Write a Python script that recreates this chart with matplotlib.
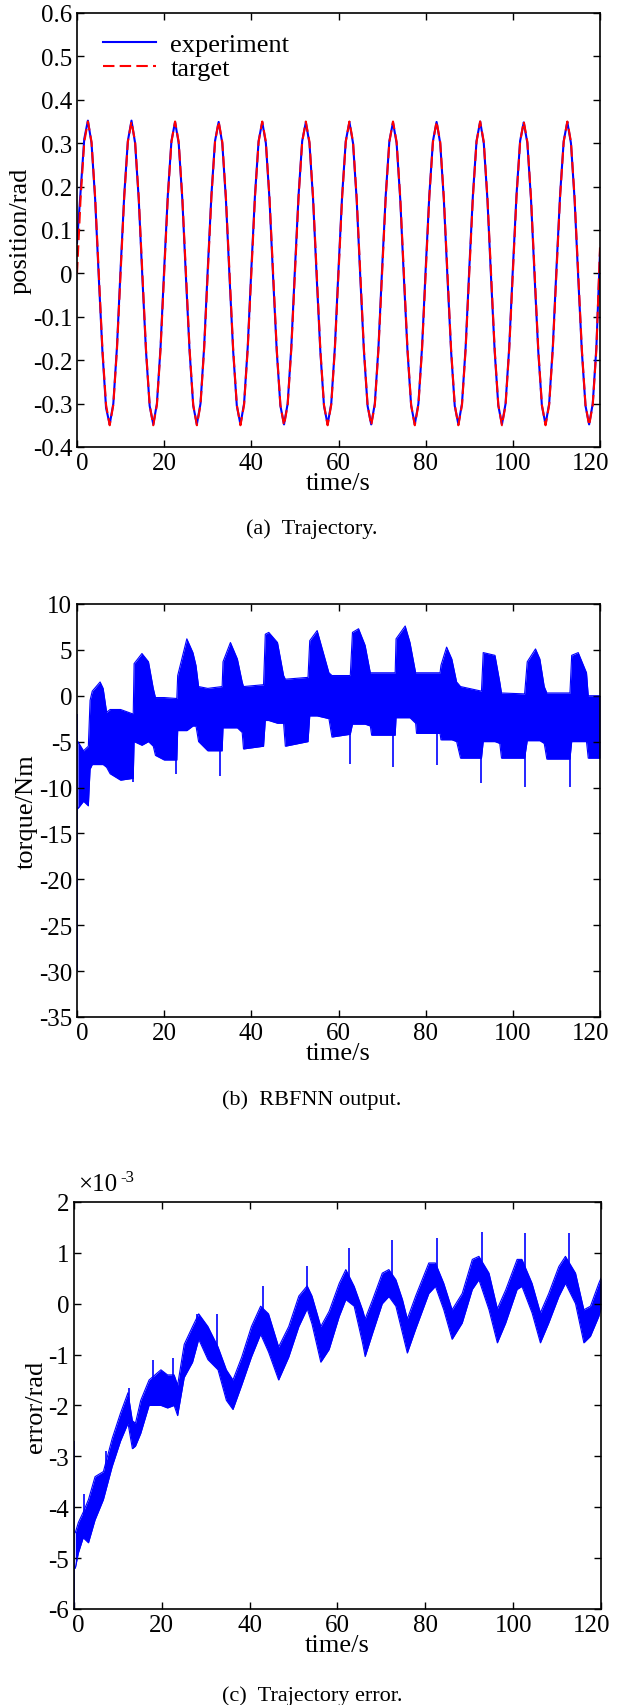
import numpy as np
import matplotlib
matplotlib.use('Agg')
import matplotlib.pyplot as plt
from matplotlib.transforms import ScaledTranslation

plt.rcParams['font.family'] = ['Liberation Serif', 'DejaVu Serif']
plt.rcParams['axes.unicode_minus'] = False

# (a) trajectory, sampled every 10/12 s, one row per 10 s cycle
traj_t = np.linspace(0, 120, 145)
target = [
    0.0, 0.175, 0.303, 0.35, 0.303, 0.175, 0.0, -0.175, -0.303, -0.35, -0.303, -0.175,
    0.0, 0.175, 0.303, 0.35, 0.303, 0.175, 0.0, -0.175, -0.303, -0.35, -0.303, -0.175,
    0.0, 0.175, 0.303, 0.35, 0.303, 0.175, 0.0, -0.175, -0.303, -0.35, -0.303, -0.175,
    0.0, 0.175, 0.303, 0.35, 0.303, 0.175, 0.0, -0.175, -0.303, -0.35, -0.303, -0.175,
    0.0, 0.175, 0.303, 0.35, 0.303, 0.175, 0.0, -0.175, -0.303, -0.35, -0.303, -0.175,
    0.0, 0.175, 0.303, 0.35, 0.303, 0.175, 0.0, -0.175, -0.303, -0.35, -0.303, -0.175,
    0.0, 0.175, 0.303, 0.35, 0.303, 0.175, 0.0, -0.175, -0.303, -0.35, -0.303, -0.175,
    0.0, 0.175, 0.303, 0.35, 0.303, 0.175, 0.0, -0.175, -0.303, -0.35, -0.303, -0.175,
    0.0, 0.175, 0.303, 0.35, 0.303, 0.175, 0.0, -0.175, -0.303, -0.35, -0.303, -0.175,
    0.0, 0.175, 0.303, 0.35, 0.303, 0.175, 0.0, -0.175, -0.303, -0.35, -0.303, -0.175,
    0.0, 0.175, 0.303, 0.35, 0.303, 0.175, 0.0, -0.175, -0.303, -0.35, -0.303, -0.175,
    0.0, 0.175, 0.303, 0.35, 0.303, 0.175, 0.0, -0.175, -0.303, -0.35, -0.303, -0.175,
    0.06]
experiment = [
    0.07, 0.19, 0.31, 0.352, 0.30, 0.17, -0.01, -0.18, -0.31, -0.348, -0.30, -0.17,
    0.01, 0.18, 0.305, 0.352, 0.30, 0.17, -0.01, -0.18, -0.305, -0.348, -0.30, -0.17,
    0.01, 0.18, 0.305, 0.349, 0.30, 0.17, -0.01, -0.18, -0.305, -0.348, -0.30, -0.17,
    0.01, 0.18, 0.305, 0.349, 0.30, 0.17, -0.01, -0.18, -0.305, -0.348, -0.30, -0.17,
    0.01, 0.18, 0.305, 0.349, 0.30, 0.17, -0.01, -0.18, -0.305, -0.348, -0.30, -0.17,
    0.01, 0.18, 0.305, 0.348, 0.30, 0.17, -0.01, -0.18, -0.305, -0.348, -0.30, -0.17,
    0.01, 0.18, 0.305, 0.349, 0.30, 0.17, -0.01, -0.18, -0.305, -0.348, -0.30, -0.17,
    0.01, 0.18, 0.305, 0.348, 0.30, 0.17, -0.01, -0.18, -0.305, -0.348, -0.30, -0.17,
    0.01, 0.18, 0.305, 0.349, 0.30, 0.17, -0.01, -0.18, -0.305, -0.348, -0.30, -0.17,
    0.01, 0.18, 0.305, 0.350, 0.30, 0.17, -0.01, -0.18, -0.305, -0.348, -0.30, -0.17,
    0.01, 0.18, 0.305, 0.348, 0.30, 0.17, -0.01, -0.18, -0.305, -0.348, -0.30, -0.17,
    0.01, 0.18, 0.305, 0.349, 0.30, 0.17, -0.01, -0.18, -0.305, -0.348, -0.30, -0.17,
    0.05]

# (b) RBFNN output: band of the dense signal (time, low, high)
torque_t = [0.2, 1.5, 2.6, 3.0, 3.5, 5.3, 6.0, 6.8, 7.6, 10.0, 12.9, 13.1, 14.9, 16.4, 17.5,
            18.0, 20.0, 22.9, 23.1, 25.2, 26.6, 27.3, 27.9, 30.0, 33.3, 33.5, 35.2, 36.8,
            37.9, 38.2, 42.8, 43.2, 44.0, 46.0, 47.4, 47.8, 53.0, 53.4, 55.1, 57.8, 58.5,
            62.7, 63.2, 64.6, 66.1, 67.3, 67.6, 73.0, 73.2, 75.3, 76.4, 77.7, 77.9, 83.3,
            83.5, 84.8, 86.0, 87.1, 88.0, 92.8, 93.2, 95.9, 97.0, 97.4, 102.7, 103.3,
            105.2, 106.2, 107.2, 107.8, 113.1, 113.5, 115.0, 116.9, 117.3, 120.0]
torque_lo = [-12.3, -11.5, -12.0, -8.0, -7.5, -7.5, -7.5, -7.8, -8.5, -9.2, -9.0, -5.0, -5.4,
             -5.0, -5.5, -6.5, -7.0, -7.0, -3.8, -3.8, -3.3, -3.3, -5.0, -6.0, -6.0, -3.5,
             -3.5, -3.5, -4.0, -5.8, -5.5, -2.7, -2.7, -3.0, -3.0, -5.5, -5.0, -2.2, -2.2,
             -2.5, -4.5, -4.2, -3.1, -3.1, -3.1, -3.3, -4.3, -4.3, -2.4, -2.4, -2.4, -3.0,
             -4.1, -4.1, -4.8, -4.8, -4.8, -5.0, -6.8, -6.8, -5.0, -5.0, -5.2, -6.8, -6.8,
             -4.9, -4.9, -4.9, -5.2, -6.9, -6.9, -5.0, -5.0, -5.0, -6.8, -6.8]
torque_hi = [-5.0, -6.0, -5.5, -0.5, 0.5, 1.5, 0.8, -1.8, -1.5, -1.5, -2.0, 3.5, 4.6, 3.7, 0.8,
             -0.2, -0.2, -0.3, 2.2, 6.2, 4.7, 3.3, 1.0, 0.8, 1.0, 3.7, 5.8, 4.0, 1.5, 1.0,
             1.2, 6.7, 6.9, 5.8, 2.2, 1.8, 2.0, 6.0, 7.1, 2.5, 2.2, 2.2, 6.9, 7.3, 5.5,
             2.5, 2.5, 2.5, 6.2, 7.6, 5.8, 2.5, 2.5, 2.5, 3.3, 5.3, 4.0, 1.5, 1.0, 0.5,
             4.7, 4.4, 1.5, 0.3, 0.2, 3.7, 5.1, 4.0, 1.0, 0.3, 0.3, 4.4, 4.7, 2.5, 0.0, 0.0]
torque_spike_t = [0.1, 12.8, 22.6, 32.7, 62.7, 72.4, 82.7, 92.8, 102.7, 113.0]
torque_spike_v = [-30, -9.4, -8.5, -8.7, -7.4, -7.8, -7.6, -9.5, -9.9, -9.9]

# (c) trajectory error in 1e-3 rad: band (time, low, high)
err_t = [0.3, 1.0, 2.1, 3.3, 4.8, 6.7, 8.7, 10.6, 12.3, 13.3, 14.0, 15.2, 17.1, 19.8, 21.3,
         22.8, 23.6, 25.1, 27.0, 28.4, 30.5, 32.8, 34.7, 36.2, 38.2, 40.4, 42.5, 44.3, 46.6,
         48.9, 51.2, 53.1, 54.2, 56.2, 58.1, 60.4, 61.9, 63.8, 65.7, 66.3, 68.0, 70.2, 71.7,
         73.3, 74.8, 75.9, 77.8, 80.8, 82.3, 84.2, 86.1, 88.4, 90.7, 92.2, 94.5, 96.4, 98.3,
         100.9, 102.0, 104.3, 106.2, 108.1, 110.4, 111.9, 114.2, 116.1, 117.6, 119.5, 120.0]
err_lo = [-5.2, -4.9, -4.6, -4.7, -4.25, -3.85, -3.2, -2.7, -2.35, -2.85, -2.8, -2.55, -2.0,
          -2.0, -2.05, -2.0, -2.2, -1.45, -1.15, -0.7, -1.1, -1.3, -1.9, -2.08, -1.6, -1.05,
          -0.6, -0.95, -1.5, -1.05, -0.45, -0.1, -0.4, -1.15, -0.9, -0.25, 0.08, -0.05,
          -0.77, -1.04, -0.58, 0.0, 0.14, -0.05, -0.58, -0.97, -0.5, 0.2, 0.34, -0.12, -0.7,
          -0.38, 0.28, 0.47, -0.12, -0.77, -0.38, 0.28, 0.34, -0.18, -0.77, -0.38, 0.14, 0.4,
          0.0, -0.77, -0.64, -0.25, -0.1]
err_hi = [-4.5, -4.3, -4.1, -3.85, -3.4, -3.3, -2.65, -2.15, -1.75, -2.3, -2.35, -1.9, -1.5,
          -1.3, -1.4, -1.4, -1.6, -0.8, -0.45, -0.2, -0.45, -0.85, -1.3, -1.5, -1.05, -0.45,
          -0.05, -0.2, -0.85, -0.45, 0.15, 0.35, 0.15, -0.45, -0.15, 0.4, 0.67, 0.34, -0.12,
          -0.3, 0.08, 0.6, 0.67, 0.47, 0.08, -0.3, 0.15, 0.8, 0.8, 0.4, -0.12, 0.2, 0.87,
          0.93, 0.6, -0.1, 0.27, 0.87, 0.87, 0.4, -0.18, 0.2, 0.73, 0.93, 0.6, -0.12, -0.05,
          0.4, 0.5]
err_spike_t = [0.1, 2.3, 7.2, 12.5, 18.1, 22.6, 28.0, 32.6, 43.1, 53.1, 62.7, 72.5, 82.6,
               92.8, 102.7, 112.8]
err_spike_v = [-2.7, -3.75, -2.9, -1.65, -1.1, -1.07, -0.2, -0.2, 0.35, 0.75, 1.1, 1.25, 1.3,
               1.4, 1.38, 1.38]
err_spike_base = [-6.0, -4.3, -3.4, -2.0, -1.6, -1.6, -0.5, -0.9, -0.2, 0.1, 0.3, 0.3, 0.5,
                  0.5, 0.5, 0.5]

xticks = [0, 20, 40, 60, 80, 100, 120]
FS = 18
LFS = 19

def style(ax, yticks, ylabels, first_shift):
    ax.set_xlim(0, 120)
    ax.set_xticks(xticks)
    ax.set_xticklabels([str(x) for x in xticks])
    ax.set_ylim(yticks[0], yticks[-1])
    ax.set_yticks(yticks)
    ax.set_yticklabels(ylabels)
    ax.tick_params(direction='in', top=True, right=True, length=5, width=1,
                   labelsize=FS, pad=3.5)
    for s in ax.spines.values():
        s.set_linewidth(1.2)
    # end labels pulled inward a little, like the original
    labs = ax.get_xticklabels()
    labs[0].set_transform(labs[0].get_transform() + ScaledTranslation(first_shift, 0, fig.dpi_scale_trans))
    labs[-1].set_transform(labs[-1].get_transform() + ScaledTranslation(-0.09, 0, fig.dpi_scale_trans))
    ax.set_xlabel('time/s', fontsize=LFS, labelpad=-1)

fig = plt.figure(figsize=(6.18, 17.06), dpi=100)

#轨迹
ax1 = fig.add_axes([0.1246, 0.7374, 0.8463, 0.2544])
ax1.plot(traj_t, experiment, color='blue', lw=1.5, label='experiment')
ax1.plot(traj_t, target, color='red', lw=1.5, dashes=(5.5, 2.5), label='target')
yt1 = [-0.4, -0.3, -0.2, -0.1, 0, 0.1, 0.2, 0.3, 0.4, 0.5, 0.6]
style(ax1, yt1, ['-0.4', '-0.3', '-0.2', '-0.1', '0', '0.1', '0.2', '0.3', '0.4', '0.5', '0.6'], 0.05)
ax1.set_ylabel('position/rad', fontsize=LFS, labelpad=1)
ax1.legend(loc='upper left', bbox_to_anchor=(0.05, 0.955), frameon=False, fontsize=LFS,
           handlelength=2.0, handletextpad=0.55, labelspacing=0.02, borderaxespad=0,
           borderpad=0)
fig.text(0.505, 0.6899, '(a)  Trajectory.', ha='center', va='center', fontsize=16)

#RBFNN输出
ax2 = fig.add_axes([0.1246, 0.4033, 0.8463, 0.2421])
ax2.fill_between(torque_t, torque_lo, torque_hi, color='blue', lw=0)
ax2.plot(torque_t, torque_lo, color='blue', lw=0.8)
ax2.plot(torque_t, torque_hi, color='blue', lw=0.8)
ax2.vlines(torque_spike_t, torque_spike_v, -2, color='blue', lw=1.2)
yt2 = [-35, -30, -25, -20, -15, -10, -5, 0, 5, 10]
style(ax2, yt2, [str(v) for v in yt2], 0.05)
ax2.set_ylabel('torque/Nm', fontsize=LFS, labelpad=1)
fig.text(0.505, 0.3552, '(b)  RBFNN output.', ha='center', va='center', fontsize=16)

#轨迹误差
ax3 = fig.add_axes([0.1197, 0.0563, 0.8528, 0.2386])
ax3.fill_between(err_t, err_lo, err_hi, color='blue', lw=0)
ax3.plot(err_t, err_lo, color='blue', lw=0.8)
ax3.plot(err_t, err_hi, color='blue', lw=0.8)
ax3.vlines(err_spike_t, err_spike_v, err_spike_base, color='blue', lw=1.2)
yt3 = [-6, -5, -4, -3, -2, -1, 0, 1, 2]
style(ax3, yt3, [str(v) for v in yt3], 0.04)
ax3.set_ylabel('error/rad', fontsize=LFS, labelpad=1)
ax3.text(0.008, 1.03, '\u00d710', transform=ax3.transAxes, fontsize=FS,
         ha='left', va='baseline')
ax3.text(0.088, 1.052, '-3', transform=ax3.transAxes, fontsize=12,
         ha='left', va='baseline')
fig.text(0.505, 0.0058, '(c)  Trajectory error.', ha='center', va='center', fontsize=16)

fig.savefig('out.png', dpi=100)
